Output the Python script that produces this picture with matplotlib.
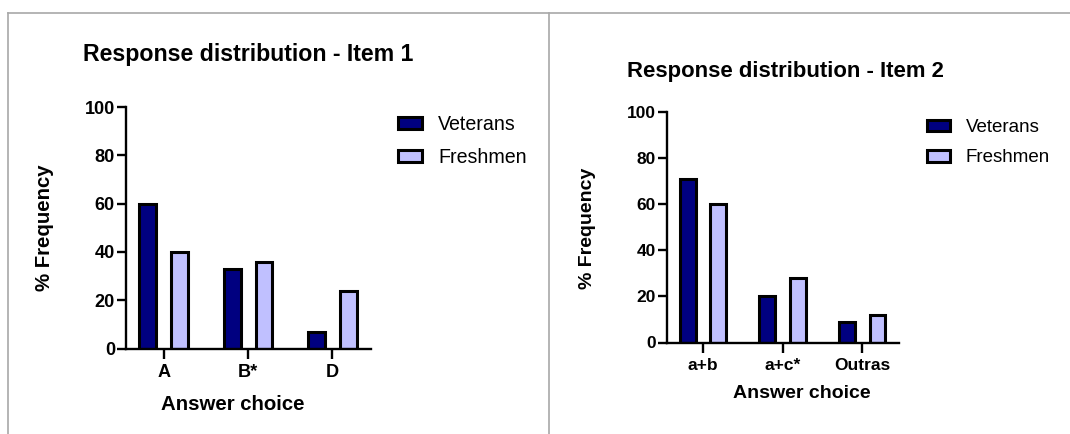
import matplotlib
matplotlib.use("Agg")
import matplotlib.pyplot as plt
from matplotlib.lines import Line2D
import numpy as np

plt.rcParams["font.family"] = ["Liberation Sans", "DejaVu Sans"]

# data
groups = ["Veterans", "Freshmen"]
item1_choices = ["A", "B*", "D"]
item1_veterans = [60, 33, 7]
item1_freshmen = [40, 36, 24]
item2_choices = ["a+b", "a+c*", "Outras"]
item2_veterans = [71, 20, 9]
item2_freshmen = [60, 28, 12]

NAVY = "#000080"
LAVENDER = "#C0C0FF"
W, H = 1070, 434


def fx(px):
    return px / W


def fy(py):
    return 1 - py / H


def panel(fig, rect, title, title_xy, choices, vet, fresh, ylab_xy, xlab_xy, leg_xy, k=1.0):
    ax = fig.add_axes(rect)
    x = np.arange(len(choices))
    off, bw = 0.19, 0.2
    ax.bar(x - off, vet, bw, color=NAVY, edgecolor="black", linewidth=2.2, label=groups[0])
    ax.bar(x + off, fresh, bw, color=LAVENDER, edgecolor="black", linewidth=2.2, label=groups[1])
    ax.set_xlim(-0.45, len(choices) - 1 + 0.46)
    ax.set_ylim(0, 100)
    ax.set_yticks([0, 20, 40, 60, 80, 100])
    ax.set_xticks(x)
    ax.set_xticklabels(choices)
    for s in ["top", "right"]:
        ax.spines[s].set_visible(False)
    for s in ["left", "bottom"]:
        ax.spines[s].set_linewidth(1.7)
    ax.tick_params(axis="y", length=6.5, width=1.7, pad=1.5, labelsize=12.5 * k)
    ax.tick_params(axis="x", length=7, width=1.7, pad=4, labelsize=12.5 * k)
    for lab in ax.get_xticklabels() + ax.get_yticklabels():
        lab.set_fontweight("bold")
    ax.set_ylabel("% Frequency", fontsize=14 * k, fontweight="bold")
    ax.yaxis.set_label_coords(fx(ylab_xy[0]), fy(ylab_xy[1]), transform=fig.transFigure)
    ax.set_xlabel("Answer choice", fontsize=14 * k, fontweight="bold")
    ax.xaxis.set_label_coords(fx(xlab_xy[0]), fy(xlab_xy[1]), transform=fig.transFigure)
    ax.xaxis.label.set_va("center")
    ax.yaxis.label.set_va("center")
    fig.text(fx(title_xy[0]), fy(title_xy[1]), title, fontsize=15.9 * k, fontweight="bold",
             ha="left", va="center")
    ax.legend(loc="upper left", bbox_to_anchor=(fx(leg_xy[0]), fy(leg_xy[1])),
              bbox_transform=fig.transFigure, frameon=False, fontsize=13.5 * k,
              handlelength=1.25, handleheight=0.55, handletextpad=0.8,
              labelspacing=0.72, borderpad=0, borderaxespad=0)
    return ax


fig = plt.figure(figsize=(W / 100, H / 100), dpi=100)

# frame lines
lc = "#A8A8A8"
fig.add_artist(Line2D([fx(8), 1], [fy(12.5), fy(12.5)], color=lc, lw=1.2))
fig.add_artist(Line2D([fx(8), fx(8)], [fy(12.5), 0], color=lc, lw=1.2))
fig.add_artist(Line2D([fx(549), fx(549)], [fy(12.5), 0], color=lc, lw=1.2))

panel(fig, [fx(126), fy(348.5), fx(371 - 126), (348.5 - 107) / H],
      "Response distribution - Item 1", (83, 55),
      item1_choices, item1_veterans, item1_freshmen,
      (45, 228), (233, 405), (398, 115), k=1.045)

panel(fig, [fx(667), fy(342.5), fx(899 - 667), (342.5 - 112) / H],
      "Response distribution - Item 2", (627, 72),
      item2_choices, item2_veterans, item2_freshmen,
      (588, 228), (802, 394), (927, 119))

fig.savefig("out.png", dpi=100)
